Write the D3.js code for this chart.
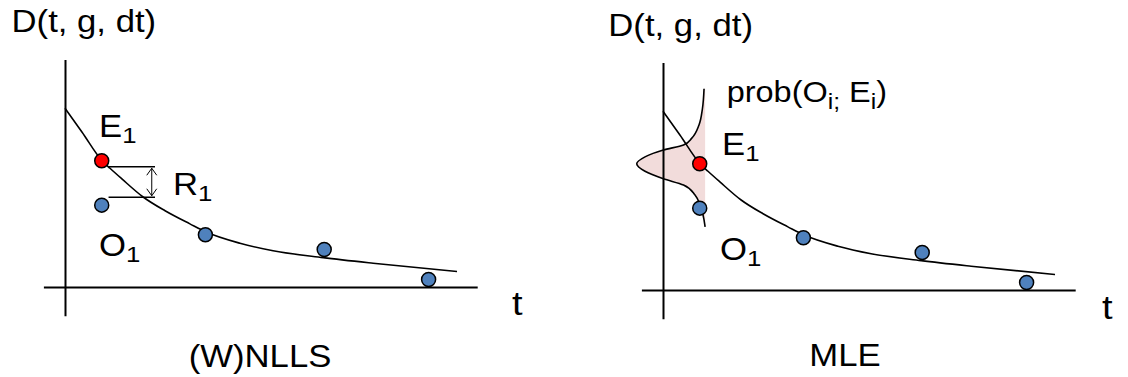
<!DOCTYPE html>
<html>
<head>
<meta charset="utf-8">
<script src="https://cdn.jsdelivr.net/npm/d3@7"></script>
<style>
  html, body { margin: 0; padding: 0; background: #fff; }
  svg text { font-family: "Liberation Sans", Arial, Helvetica, sans-serif; fill: #000; white-space: pre; }
</style>
</head>
<body>
<svg id="chart" width="1128" height="377"></svg>
<script>
// Observations O_i (blue) at their times
const obsT = [1.02, 3.9, 7.2, 10.1];
const obsD = [6.55, 4.18, 3.0, 0.6];

// Expected value E_1 (red) from the model
const expT = [1.02];
const expD = [10.1];

// Model decay curve D(t)
const curveT = [0, 0.47, 1.03, 1.25, 1.58, 2.17, 2.78, 3.47, 3.92, 4.86, 5.78, 7.17, 8.56, 10.89];
const curveD = [14.3, 12.4, 10.1, 9.5, 8.65, 7.2, 6.1, 5.05, 4.4, 3.5, 2.9, 2.35, 1.9, 1.24];

// Likelihood profile prob(O_i; E_i) around E_1, drawn sideways from a baseline time
const probD = [16.1, 14.5, 13.2, 12.15, 11.6, 11.2, 10.65, 10.1, 9.5, 8.9, 8.4, 7.6, 6.8, 5.05];
const probW = [0.03, 0.075, 0.17, 0.37, 0.6, 1.16, 1.67, 1.9, 1.67, 1.16, 0.6, 0.28, 0.14, 0];
const probBaseT = 1.17;

// Residual R_1 bracket
const residD = [9.62, 7.18];
const residT = [1.21, 2.5];
const residArrowT = 2.41;

// Axis extents
const tExtent = [-0.6, 11.45];
const dExtent = [-2.3, 18.2];

// Pixel sizes of one unit on each axis
const PX_T = 36, PX_D = 12.5;
const SX = 1.12;           // horizontal stretch of the lettering
const BLUE = "#4f81bd", RED = "#ff0000", PINK = "#f2dcdb";

const panels = [
  {
    origin: [65, 287],
    yLabel: [-53.5, -254.7], tLabel: [447, 28],
    caption: "(W)NLLS", captionPos: [195, 80],
    e1: [34, -150], o1: [34, -31], r1: [108, -92],
    residual: true, prob: false
  },
  {
    origin: [663, 290],
    yLabel: [-54.7, -254], tLabel: [439, 29],
    caption: "MLE", captionPos: [182, 76],
    e1: [59, -135], o1: [57, -30], probLabel: [63.7, -188],
    residual: false, prob: true
  }
];

const svg = d3.select("#chart");

function label(g, pos, parts, size, subSize, subShift, anchor) {
  const t = g.append("text")
    .attr("transform", `translate(${pos[0]},${pos[1]}) scale(${SX},1)`)
    .attr("font-size", size)
    .attr("text-anchor", anchor || "start");
  let down = false;
  parts.forEach(p => {
    const ts = t.append("tspan").text(p.s);
    if (p.sub) {
      ts.attr("font-size", subSize);
      if (!down) { ts.attr("dy", subShift); down = true; }
    } else if (down) {
      ts.attr("dy", -subShift); down = false;
    }
  });
  return t;
}

panels.forEach(p => {
  const [ox, oy] = p.origin;
  const x = d3.scaleLinear().domain(tExtent).range([ox + tExtent[0] * PX_T, ox + tExtent[1] * PX_T]);
  const y = d3.scaleLinear().domain(dExtent).range([oy - dExtent[0] * PX_D, oy - dExtent[1] * PX_D]);
  const g = svg.append("g");

  // shaded likelihood profile
  if (p.prob) {
    const prof = probD.map((d, i) => ({ d, w: probW[i] }));
    g.append("path")
      .datum(prof)
      .attr("fill", PINK)
      .attr("d", d3.area().curve(d3.curveMonotoneY)
        .y(q => y(q.d)).x0(x(probBaseT)).x1(q => x(probBaseT - q.w)));
  }

  // axes without ticks
  const xAxis = g.append("g").attr("transform", `translate(0,${y(0)})`)
    .call(d3.axisBottom(x).tickValues([]).tickSizeOuter(0));
  const yAxis = g.append("g").attr("transform", `translate(${x(0)},0)`)
    .call(d3.axisLeft(y).tickValues([]).tickSizeOuter(0));
  [xAxis, yAxis].forEach(a => a.select(".domain").attr("stroke", "#000").attr("stroke-width", 2));

  // model curve
  const pts = curveT.map((t, i) => [t, curveD[i]]);
  g.append("path").datum(pts)
    .attr("fill", "none").attr("stroke", "#000").attr("stroke-width", 1.6)
    .attr("d", d3.line().curve(d3.curveMonotoneX).x(d => x(d[0])).y(d => y(d[1])));

  if (p.prob) {
    const prof = probD.map((d, i) => ({ d, w: probW[i] }));
    g.append("path").datum(prof)
      .attr("fill", "none").attr("stroke", "#000").attr("stroke-width", 1.6)
      .attr("d", d3.line().curve(d3.curveMonotoneY)
        .y(q => y(q.d)).x(q => x(probBaseT - q.w)));
  }

  // residual bracket
  if (p.residual) {
    residD.forEach(d => {
      g.append("line")
        .attr("x1", x(residT[0])).attr("x2", x(residT[1]))
        .attr("y1", y(d)).attr("y2", y(d))
        .attr("stroke", "#000").attr("stroke-width", 1.5);
    });
    const ax = x(residArrowT), ya = y(residD[0]) + 1.5, yb = y(residD[1]) - 1.5;
    g.append("line").attr("x1", ax).attr("x2", ax).attr("y1", ya).attr("y2", yb)
      .attr("stroke", "#000").attr("stroke-width", 1);
    g.append("path")
      .attr("d", `M${ax - 5},${ya + 7}L${ax},${ya}L${ax + 5},${ya + 7}M${ax - 5},${yb - 7}L${ax},${yb}L${ax + 5},${yb - 7}`)
      .attr("fill", "none").attr("stroke", "#000").attr("stroke-width", 1);
  }

  // observations and expectation
  g.selectAll("circle.obs").data(obsT).join("circle")
    .attr("class", "obs")
    .attr("cx", (t) => x(t)).attr("cy", (t, i) => y(obsD[i])).attr("r", 7)
    .attr("fill", BLUE).attr("stroke", "#000").attr("stroke-width", 1.5);
  g.selectAll("circle.exp").data(expT).join("circle")
    .attr("class", "exp")
    .attr("cx", (t) => x(t)).attr("cy", (t, i) => y(expD[i])).attr("r", 7)
    .attr("fill", RED).attr("stroke", "#000").attr("stroke-width", 1.5);

  const at = off => [ox + off[0], oy + off[1]];

  // text
  label(g, at(p.yLabel), [{ s: "D(t, g, dt)" }], 31, 22, 6);
  label(g, at(p.tLabel), [{ s: "t" }], 34, 24, 6);
  label(g, at(p.captionPos), [{ s: p.caption }], 31, 22, 6, "middle");
  label(g, at(p.e1), [{ s: "E" }, { s: "1", sub: true }], 31, 23, 6);
  label(g, at(p.o1), [{ s: "O" }, { s: "1", sub: true }], 31, 23, 6);
  if (p.r1) label(g, at(p.r1), [{ s: "R" }, { s: "1", sub: true }], 31, 23, 6);
  if (p.probLabel) {
    label(g, at(p.probLabel),
      [{ s: "prob(O" }, { s: "i;", sub: true }, { s: " E" }, { s: "i", sub: true }, { s: ")" }],
      29, 22, 7);
  }
});
</script>
</body>
</html>
